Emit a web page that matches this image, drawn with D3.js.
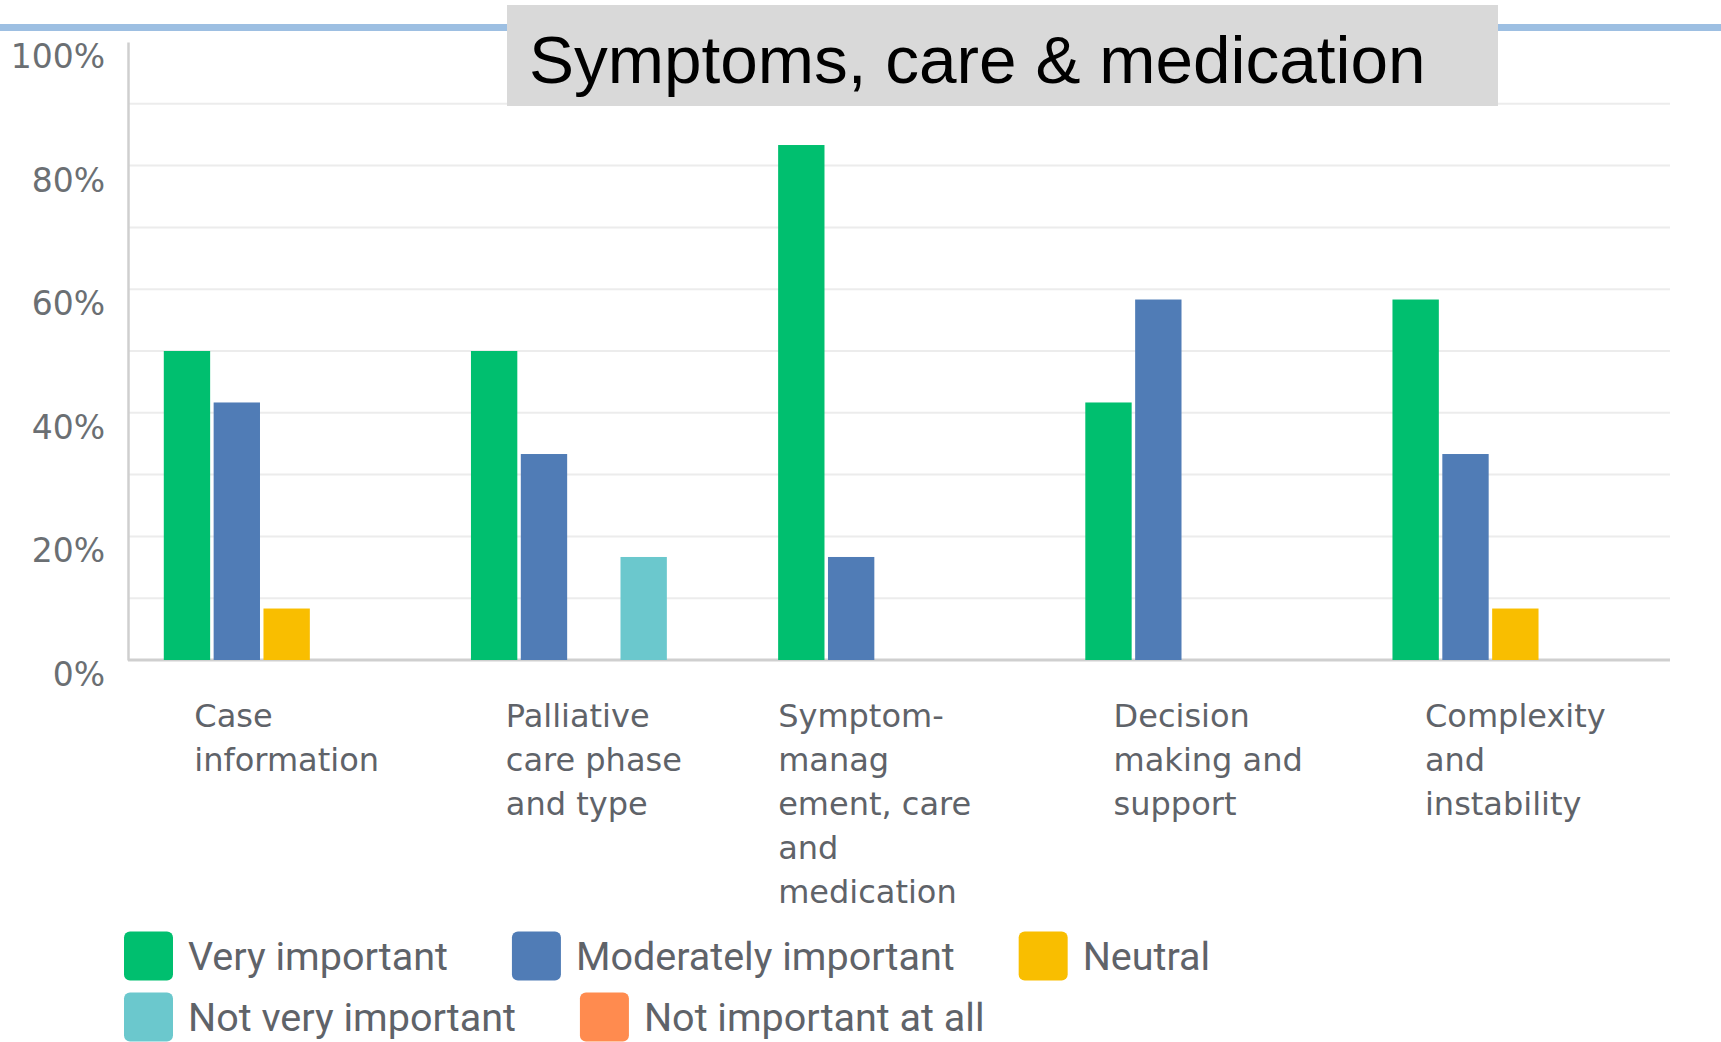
<!DOCTYPE html>
<html>
<head>
<meta charset="utf-8">
<script src="https://cdn.jsdelivr.net/npm/d3@7"></script>
<style>
  body { margin: 0; background: #fff; }
  svg text { font-family: "DejaVu Sans", sans-serif; }
</style>
</head>
<body>
<svg id="chart"></svg>
<script>
// data (percent of respondents)
var categories = ["Case information", "Palliative care phase and type", "Symptom-management, care and medication", "Decision making and support", "Complexity and instability"];
var labelLines = [
  ["Case", "information"],
  ["Palliative", "care phase", "and type"],
  ["Symptom-", "manag", "ement, care", "and", "medication"],
  ["Decision", "making and", "support"],
  ["Complexity", "and", "instability"]
];
var seriesNames = ["Very important", "Moderately important", "Neutral", "Not very important", "Not important at all"];
var seriesColors = ["#00bf6f", "#507cb6", "#f9be00", "#6bc8cd", "#ff8b4f"];
var veryImportant = [50, 50, 83.33, 41.67, 58.33];
var moderatelyImportant = [41.67, 33.33, 16.67, 58.33, 33.33];
var neutral = [8.33, 0, 0, 0, 8.33];
var notVeryImportant = [0, 16.67, 0, 0, 0];
var notImportantAtAll = [0, 0, 0, 0, 0];
var yTicks = [0, 20, 40, 60, 80, 100];
var yGrid = [10, 20, 30, 40, 50, 60, 70, 80, 90];
var title = "Symptoms, care & medication";

var width = 1721, height = 1042;
var margin = { top: 42, right: 51, bottom: 382, left: 128 };
var series = [veryImportant, moderatelyImportant, neutral, notVeryImportant, notImportantAtAll];

var svg = d3.select("#chart").attr("width", width).attr("height", height);

var x0 = d3.scaleBand().domain(categories)
  .range([margin.left + 2, width - margin.right + 2])
  .paddingInner(0.2).paddingOuter(0.11);
var x1 = d3.scaleBand().domain(seriesNames)
  .range([0, x0.bandwidth()])
  .paddingInner(0.07);
var y = d3.scaleLinear().domain([0, 100]).range([height - margin.bottom, margin.top]);

// decorative top rule
svg.append("rect").attr("x", 0).attr("y", 24).attr("width", width).attr("height", 7).attr("fill", "#9dbfe2");

// gridlines
svg.append("g").selectAll("line").data(yGrid).join("line")
  .attr("x1", margin.left).attr("x2", width - margin.right)
  .attr("y1", d => y(d)).attr("y2", d => y(d))
  .attr("stroke", "#ececec").attr("stroke-width", 2);

// y axis, labels sit just under their gridline
var yAxis = svg.append("g").attr("transform", `translate(${margin.left},0)`)
  .call(d3.axisLeft(y).tickValues(yTicks).tickFormat(d => d + "%").tickSize(0).tickPadding(23));
yAxis.select(".domain").attr("stroke", "#cfcfcf").attr("stroke-width", 2.5);
yAxis.selectAll("text").attr("font-size", 33).attr("fill", "#6b6f73").attr("y", 15)
  .style("font-family", "'DejaVu Sans', sans-serif");

// baseline
svg.append("line").attr("x1", margin.left).attr("x2", width - margin.right)
  .attr("y1", y(0)).attr("y2", y(0)).attr("stroke", "#cfcfcf").attr("stroke-width", 3);

// bars
var groups = svg.append("g").selectAll("g").data(categories).join("g")
  .attr("transform", d => `translate(${x0(d)},0)`);
groups.selectAll("rect")
  .data((c, i) => seriesNames.map((s, j) => ({ s: s, v: series[j][i], color: seriesColors[j] })))
  .join("rect")
  .attr("x", d => x1(d.s))
  .attr("width", x1.bandwidth())
  .attr("y", d => y(d.v))
  .attr("height", d => y(0) - y(d.v))
  .attr("fill", d => d.color);

// category labels, block centred on the group
var labelSize = 32, lineStep = 44;
var labels = svg.append("g").selectAll("text").data(categories).join("text")
  .attr("font-size", labelSize).attr("fill", "#5f6369");
labels.each(function (c, i) {
  var t = d3.select(this);
  labelLines[i].forEach((ln, k) => {
    t.append("tspan").attr("x", 0).attr("y", y(0) + 67 + k * lineStep).text(ln);
  });
  var w = this.getBBox().width;
  // a word wider than the group forces a full-width box
  var probe = t.append("tspan").attr("x", 0).attr("y", -100).text(c.split(" ").reduce((a, b) => b.length > a.length ? b : a, ""));
  var wordW = probe.node().getComputedTextLength();
  probe.remove();
  var boxW = wordW > x0.bandwidth() ? x0.bandwidth() : w;
  var left = x0(c) + x0.bandwidth() / 2 - boxW / 2;
  t.selectAll("tspan").attr("x", left);
});

// legend (flow layout)
var legend = svg.append("g");
var lx = 124, ly = 956, sq = 49, maxX = width - 110;
seriesNames.forEach((s, j) => {
  var item = legend.append("g");
  item.append("rect").attr("width", sq).attr("height", sq).attr("rx", 6).attr("fill", seriesColors[j]);
  var txt = item.append("text").attr("x", sq + 15).attr("y", sq / 2).attr("dy", "0.36em")
    .style("font-family", "Roboto, sans-serif")
    .attr("font-size", 39.5).attr("fill", "#5f6369").text(s);
  var w = sq + 15 + txt.node().getComputedTextLength();
  if (lx + w > maxX) { lx = 124; ly += 61; }
  item.attr("transform", `translate(${lx},${ly - sq / 2})`);
  lx += w + 64;
});

// title box
var tb = svg.append("g");
tb.append("rect").attr("x", 507).attr("y", 5).attr("width", 991).attr("height", 101).attr("fill", "#d9d9d9");
tb.append("text").attr("x", 529).attr("y", 83)
  .style("font-family", "'Liberation Sans', Arial, sans-serif")
  .attr("font-size", 67.5).attr("fill", "#000").text(title);
</script>
</body>
</html>
